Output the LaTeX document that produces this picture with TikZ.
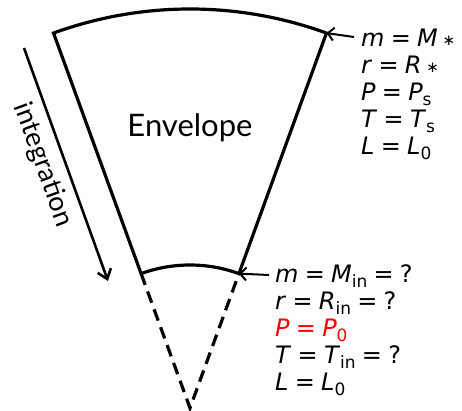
\documentclass[tikz,border=0pt]{standalone}
\usepackage{fontspec}
\setmainfont{Lato}
\newfontfamily\eqfont{DejaVu Sans}
\usetikzlibrary{arrows.meta}
\definecolor{Ink}{HTML}{000000}
\definecolor{Alert}{HTML}{FF0000}
\newcommand{\vv}[1]{\textit{#1}}
\newcommand{\lo}[1]{\raisebox{-0.22em}{\fontsize{17}{17}\selectfont #1}}
\newcommand{\st}{\hspace{0.2em}\raisebox{0.05em}{\fontsize{15}{15}\selectfont ∗}}
\newcommand{\eq}{\hspace{0.26em}=\hspace{0.26em}}

\begin{document}
\begin{tikzpicture}[x=1pt,y=1pt,
  wall/.style={draw=Ink,line width=3.2pt},
  cone/.style={draw=Ink,line width=3.2pt,dash pattern=on 12pt off 7pt},
  pointer/.style={-{Straight Barb[length=6pt,width=13pt]},draw=Ink,line width=2pt},
  flow/.style={-{Straight Barb[length=9pt,width=14pt]},draw=Ink,line width=2.6pt},
  cond/.style={anchor=north west,inner sep=0pt,align=left,font=\eqfont\fontsize{24}{27}\selectfont},
  title/.style={inner sep=0pt,font=\fontsize{31}{36}\selectfont},
  side/.style={inner sep=0pt,font=\fontsize{27}{30}\selectfont}
]
\useasboundingbox (0,0) rectangle (462,410);
% shell geometry
\coordinate (apex) at (190,2);
\coordinate (ol) at ([shift={(110:399)}]apex);
\coordinate (or) at ([shift={(70:399)}]apex);
\coordinate (il) at ([shift={(110:143)}]apex);
\coordinate (ir) at ([shift={(70:143)}]apex);
\draw[wall] (il) -- (ol) arc[start angle=110,end angle=70,radius=399] -- (ir)
  arc[start angle=70,end angle=110,radius=143];
\draw[cone] (il) -- (apex) -- (ir);
\node[title,anchor=base] (env) at (190,273) {Envelope};
% integration direction
\coordinate (fstart) at (24,362);
\coordinate (fend) at (108,129);
\draw[flow] (fstart) -- (fend);
\node[side,rotate=-70] (integ) at (43,245) {integration};
% boundary conditions
\node[cond] (surf) at (361,381) {\vv{m}\eq\vv{M}\st\\
  \vv{r}\eq\vv{R}\st\\
  \vv{P}\eq\vv{P}\lo{s}\\
  \vv{T}\eq\vv{T}\lo{s}\\
  \vv{L}\eq\vv{L}\lo{0}};
\node[cond] (core) at (275,146) {\vv{m}\eq\vv{M}\lo{in}\eq?\\
  \vv{r}\eq\vv{R}\lo{in}\eq?\\
  \textcolor{Alert}{\vv{P}\eq\vv{P}\lo{0}}\\
  \vv{T}\eq\vv{T}\lo{in}\eq?\\
  \vv{L}\eq\vv{L}\lo{0}};
\coordinate (stail) at (354,373);
\coordinate (ctail) at (269,135);
\draw[pointer] (stail) -- (or);
\draw[pointer] (ctail) -- (ir);
\end{tikzpicture}
\end{document}
